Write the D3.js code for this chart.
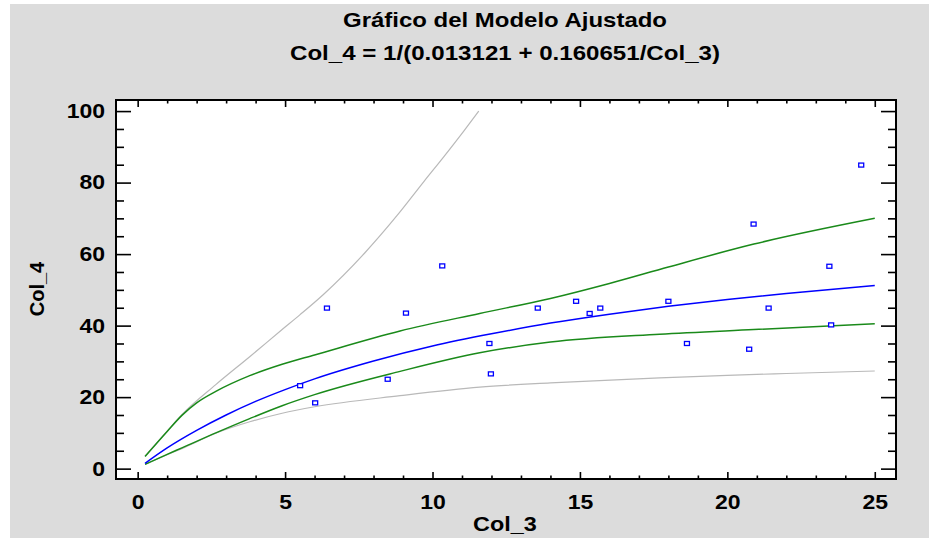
<!DOCTYPE html>
<html>
<head>
<meta charset="utf-8">
<script src="https://cdn.jsdelivr.net/npm/d3@7"></script>
<style>
  html, body { margin: 0; padding: 0; background: #ffffff; }
  svg { display: block; }
  text { font-family: "Liberation Sans", Arial, sans-serif; fill: #000; }
</style>
</head>
<body>
<svg id="chart" width="929" height="538"></svg>
<script>
// ---- Data ----
const titleLines = ["Gráfico del Modelo Ajustado", "Col_4 = 1/(0.013121 + 0.160651/Col_3)"];
const xLabel = "Col_3";
const yLabel = "Col_4";

const xTicks = [0, 5, 10, 15, 20, 25];
const yTicks = [0, 20, 40, 60, 80, 100];

// observed points
const obsX = [5.51, 6.02, 6.42, 8.48, 9.10, 10.33, 11.93, 11.98, 13.57, 14.87, 15.33, 15.69, 18.0, 18.63, 20.74, 20.89, 21.40, 23.46, 23.52, 24.54];
const obsY = [23.2, 18.4, 44.9, 25.0, 43.5, 56.7, 35.0, 26.5, 44.9, 46.8, 43.4, 44.9, 46.8, 35.0, 33.4, 68.4, 44.9, 56.6, 40.2, 84.9];

// fitted curve (blue)
const fitX = [0.25, 1, 2, 3, 4, 5, 6, 8, 10, 12, 14, 16, 18, 20, 22, 25];
const fitY = [1.5, 5.8, 10.7, 15.0, 18.8, 22.1, 25.1, 30.1, 34.3, 37.7, 40.7, 43.2, 45.4, 47.3, 49.0, 51.2];

// confidence limits (green)
const confUpX = [0.25, 1, 1.5, 2, 2.65, 3.8, 4.9, 6, 8.9, 11.6, 14, 16, 18, 20.9, 25];
const confUpper = [3.4, 10.4, 14.9, 18.4, 21.6, 26.0, 29.2, 31.8, 38.5, 43.4, 47.6, 51.8, 56.4, 62.8, 70.0];
const confLoX = [0.25, 1, 1.5, 2.65, 3.8, 4.9, 6, 8.9, 11.6, 14, 17.7, 20.9, 25];
const confLower = [1.2, 4.0, 5.8, 10.0, 14.0, 17.6, 20.7, 27.2, 32.4, 35.4, 37.6, 38.9, 40.5];

// prediction limits (gray)
const predUpX = [0.25, 1, 1.5, 2.65, 3.8, 4.9, 5.5, 6.3, 7.7, 8.8, 9.7, 10.4, 11.06, 11.57];
const predUpper = [3.5, 10.5, 15.1, 23.5, 31.3, 38.9, 43.0, 48.7, 60.3, 70.8, 80.2, 87.4, 94.4, 100];
const predLoX = [0.25, 1, 1.5, 2.65, 3.8, 4.9, 6, 8.9, 11.6, 14, 17.7, 20, 22, 25];
const predLower = [1.2, 3.9, 5.6, 9.9, 13.1, 15.5, 17.3, 20.4, 22.8, 24.0, 25.4, 26.1, 26.6, 27.3];

// ---- Layout ----
const W = 929, H = 538;
const plot = { left: 116, right: 896, top: 100, bottom: 479 };
const xDomain = [-0.735, 25.72];
const yDomain = [-2.9, 103.1];
const STRETCH = 1.15;

const svg = d3.select("#chart");

// background (with thin white margin at left/top)
svg.append("rect").attr("x", 0).attr("y", 0).attr("width", W).attr("height", H).attr("fill", "#ffffff");
svg.append("rect").attr("x", 10).attr("y", 4).attr("width", W - 10).attr("height", H - 4).attr("fill", "#dcdcdc");

const x = d3.scaleLinear().domain(xDomain).range([plot.left, plot.right]);
const y = d3.scaleLinear().domain(yDomain).range([plot.bottom, plot.top]);

// plot area
svg.append("rect")
  .attr("x", plot.left).attr("y", plot.top)
  .attr("width", plot.right - plot.left).attr("height", plot.bottom - plot.top)
  .attr("fill", "#ffffff");

function stretchText(sel, factor) {
  sel.each(function () {
    const len = this.getComputedTextLength();
    d3.select(this).attr("textLength", len * factor).attr("lengthAdjust", "spacingAndGlyphs");
  });
}

// titles
svg.append("text").attr("x", 505).attr("y", 27).attr("text-anchor", "middle")
  .style("font-size", "21px").style("font-weight", "bold")
  .attr("textLength", 324).attr("lengthAdjust", "spacingAndGlyphs")
  .text(titleLines[0]);
svg.append("text").attr("x", 505).attr("y", 60).attr("text-anchor", "middle")
  .style("font-size", "21px").style("font-weight", "bold")
  .attr("textLength", 430).attr("lengthAdjust", "spacingAndGlyphs")
  .text(titleLines[1]);

// clip for data
svg.append("clipPath").attr("id", "clip").append("rect")
  .attr("x", plot.left).attr("y", plot.top)
  .attr("width", plot.right - plot.left).attr("height", plot.bottom - plot.top);
const g = svg.append("g").attr("clip-path", "url(#clip)");

const line = d3.line().x(d => x(d[0])).y(d => y(d[1])).curve(d3.curveMonotoneX);
const zip = (a, b) => a.map((v, i) => [v, b[i]]);

g.append("path").datum(zip(predUpX, predUpper)).attr("d", line)
  .attr("fill", "none").attr("stroke", "#b9b9b9").attr("stroke-width", 1.2);
g.append("path").datum(zip(predLoX, predLower)).attr("d", line)
  .attr("fill", "none").attr("stroke", "#b9b9b9").attr("stroke-width", 1.2);
g.append("path").datum(zip(confUpX, confUpper)).attr("d", line)
  .attr("fill", "none").attr("stroke", "#1a8a1a").attr("stroke-width", 1.5);
g.append("path").datum(zip(confLoX, confLower)).attr("d", line)
  .attr("fill", "none").attr("stroke", "#1a8a1a").attr("stroke-width", 1.5);
g.append("path").datum(zip(fitX, fitY)).attr("d", line)
  .attr("fill", "none").attr("stroke", "#0000ff").attr("stroke-width", 1.5);

// points
g.selectAll("rect.pt").data(zip(obsX, obsY)).enter().append("rect")
  .attr("class", "pt")
  .attr("x", d => x(d[0]) - 2.5).attr("y", d => y(d[1]) - 2)
  .attr("width", 5).attr("height", 4)
  .attr("fill", "#ffffff").attr("stroke", "#0000ff").attr("stroke-width", 1.3);

// axes
const xMinor = d3.range(0, 26, 1).filter(v => v % 5 !== 0);
const yMinor = d3.range(0, 101, 5).filter(v => v % 20 !== 0);

function styleAxis(ax) {
  ax.select(".domain").remove();
  ax.selectAll(".tick line").attr("stroke", "#000").attr("stroke-width", 1.6);
}

// bottom
const bx = svg.append("g").attr("transform", `translate(0,${plot.bottom})`)
  .call(d3.axisBottom(x).tickValues(xTicks).tickSize(-7).tickPadding(16).tickFormat(d3.format("d")));
styleAxis(bx);
bx.selectAll("text").style("font-size", "20px").style("font-weight", "bold").attr("fill", "#000");
stretchText(bx.selectAll("text"), STRETCH);
const bxm = svg.append("g").attr("transform", `translate(0,${plot.bottom})`)
  .call(d3.axisBottom(x).tickValues(xMinor).tickSize(-3.5).tickFormat(""));
styleAxis(bxm);

// top
const tx = svg.append("g").attr("transform", `translate(0,${plot.top})`)
  .call(d3.axisTop(x).tickValues(xTicks).tickSize(-7).tickFormat(""));
styleAxis(tx);
const txm = svg.append("g").attr("transform", `translate(0,${plot.top})`)
  .call(d3.axisTop(x).tickValues(xMinor).tickSize(-3.5).tickFormat(""));
styleAxis(txm);

// left
const ly = svg.append("g").attr("transform", `translate(${plot.left},0)`)
  .call(d3.axisLeft(y).tickValues(yTicks).tickSize(-15).tickPadding(11).tickFormat(d3.format("d")));
styleAxis(ly);
ly.selectAll("text").style("font-size", "20px").style("font-weight", "bold").attr("fill", "#000");
stretchText(ly.selectAll("text"), STRETCH);
const lym = svg.append("g").attr("transform", `translate(${plot.left},0)`)
  .call(d3.axisLeft(y).tickValues(yMinor).tickSize(-8).tickFormat(""));
styleAxis(lym);

// right
const ry = svg.append("g").attr("transform", `translate(${plot.right},0)`)
  .call(d3.axisRight(y).tickValues(yTicks).tickSize(-15).tickFormat(""));
styleAxis(ry);
const rym = svg.append("g").attr("transform", `translate(${plot.right},0)`)
  .call(d3.axisRight(y).tickValues(yMinor).tickSize(-8).tickFormat(""));
styleAxis(rym);

// frame
svg.append("rect")
  .attr("x", plot.left).attr("y", plot.top)
  .attr("width", plot.right - plot.left).attr("height", plot.bottom - plot.top)
  .attr("fill", "none").attr("stroke", "#000").attr("stroke-width", 2);

// axis labels
const xl = svg.append("text").attr("x", 505).attr("y", 531).attr("text-anchor", "middle")
  .style("font-size", "20px").style("font-weight", "bold").text(xLabel);
stretchText(xl, 1.17);
svg.append("text").attr("transform", "translate(44,289) rotate(-90)").attr("text-anchor", "middle")
  .style("font-size", "20px").style("font-weight", "bold").text(yLabel);
</script>
</body>
</html>
